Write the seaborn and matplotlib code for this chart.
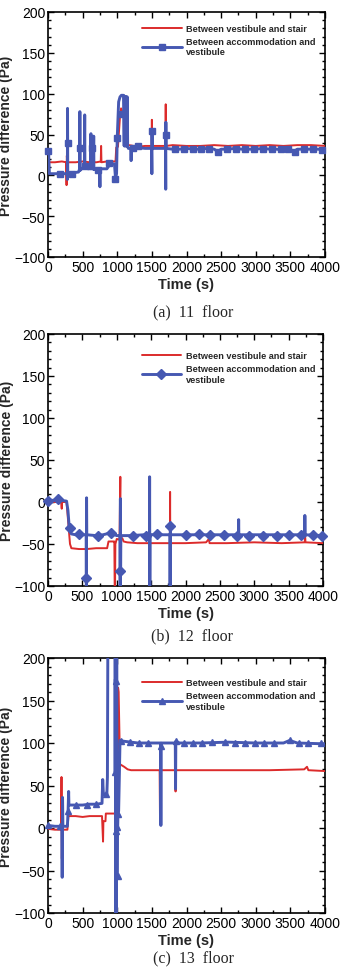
import numpy as np
import matplotlib
matplotlib.use("Agg")
import matplotlib.pyplot as plt
from matplotlib.lines import Line2D
from matplotlib.ticker import MultipleLocator
import seaborn as sns
import pandas as pd

# (time s, pressure difference Pa)
a_red = [(0,16),(100,16),(200,17),(262,16),(268,-12),(272,24),(278,16),(400,16),(500,17),
         (600,16),(700,16),(762,17),(767,36),(772,16),(850,17),(940,17),(975,17),(985,34),
         (1010,35),(1040,72),(1055,82),(1080,76),(1110,78),(1140,40),(1150,36),(1170,37),
         (1300,35),(1400,36),(1497,36),(1500,68),(1503,30),(1506,36),(1600,36),(1697,36),
         (1700,87),(1703,28),(1706,36),(1800,37),(2000,36),(2200,36),(2400,37),(2600,36),
         (2800,37),(3000,36),(3200,37),(3400,36),(3600,37),(3800,37),(4000,36)]
a_blue = [(0,30),(8,30),(20,2),(100,2),(200,2),(275,2),(280,-5),(282,82),(285,3),(350,3),
          (440,4),(458,8),(460,78),(463,6),(500,9),(525,9),(530,74),(533,10),(580,8),(615,8),
          (620,51),(623,8),(655,8),(660,48),(663,7),(745,8),(750,-14),(753,8),(850,8),(900,14),
          (960,14),(975,-4),(990,2),(1000,46),(1020,90),(1040,96),(1060,98),(1090,98),(1100,36),
          (1105,97),(1110,36),(1115,96),(1120,36),(1125,96),(1130,36),(1135,96),(1140,36),
          (1145,96),(1150,36),(1160,33),(1195,33),(1200,18),(1205,33),(1300,34),(1400,33),
          (1495,33),(1500,2),(1502,54),(1505,33),(1600,33),(1697,33),(1700,-17),(1702,65),
          (1705,33),(1800,32),(1900,32),(2000,33),(2100,32),(2200,32),(2300,33),(2400,32),
          (2450,29),(2500,32),(2600,32),(2700,33),(2800,32),(2900,32),(3000,32),(3100,33),
          (3200,32),(3300,32),(3400,31),(3500,32),(3550,29),(3600,32),(3700,32),(3800,32),
          (3900,32),(4000,31)]
a_marks = [(0,30),(180,2),(284,40),(342,2),(462,34),(534,12),(640,34),(722,7),(880,15),
           (968,-4),(992,46),(1064,75),(1223,34),(1300,36),(1497,54),(1700,50),(1830,32),
           (1960,32),(2100,32),(2210,32),(2330,32),(2460,29),(2580,32),(2720,32),(2850,32),
           (2980,32),(3100,32),(3230,32),(3360,32),(3470,32),(3560,29),(3700,32),(3830,32),
           (3960,31)]

b_red = [(0,0),(100,0),(190,0),(200,-8),(205,0),(270,0),(290,-20),(320,-50),(340,-55),
         (450,-56),(555,-56),(560,-100),(563,-56),(700,-55),(860,-55),(880,-47),(950,-47),
         (965,-47),(970,-102),(975,-102),(980,-50),(1000,-44),(1040,-45),(1052,30),(1055,-46),
         (1080,-43),(1100,-47),(1150,-48),(1300,-49),(1475,-49),(1480,-102),(1483,-49),
         (1600,-49),(1773,-49),(1776,12),(1779,-60),(1782,-49),(2000,-49),(2300,-48),
         (2340,-44),(2350,-49),(2600,-49),(3000,-48),(3400,-49),(3735,-48),(3740,-40),
         (3745,-48),(4000,-49)]
b_blue = [(0,2),(100,2),(200,2),(270,1),(290,-10),(310,-31),(340,-38),(400,-39),(555,-39),
          (558,-102),(561,5),(564,-39),(700,-40),(800,-39),(900,-37),(1000,-40),(1048,-40),
          (1050,-102),(1053,4),(1056,-82),(1060,-40),(1200,-40),(1400,-39),(1476,-39),
          (1478,30),(1481,-102),(1484,-39),(1600,-39),(1774,-39),(1776,-102),(1779,-27),
          (1782,-39),(2000,-39),(2400,-39),(2770,-39),(2773,-21),(2776,-39),(3000,-39),
          (3400,-39),(3733,-39),(3736,-16),(3740,-39),(4000,-40)]
b_marks = [(0,1),(150,3),(318,-31),(450,-38),(559,-90),(727,-40),(920,-37),(1054,-82),
           (1235,-40),(1420,-40),(1590,-38),(1776,-28),(2010,-39),(2195,-38),(2363,-39),
           (2556,-39),(2745,-40),(2930,-40),(3130,-40),(3330,-40),(3500,-39),(3680,-39),
           (3860,-39),(3980,-40)]

c_red = [(0,-1),(100,-2),(190,-2),(195,60),(200,-36),(205,-2),(280,-2),(295,14),(400,14),
         (500,13),(600,14),(700,14),(780,14),(795,-16),(800,8),(830,8),(835,17),(900,17),
         (975,17),(985,210),(992,-30),(1000,17),(1012,165),(1020,160),(1040,75),(1100,72),
         (1150,69),(1200,68),(1400,68),(1612,68),(1617,15),(1622,68),(1800,68),(1838,68),
         (1842,43),(1846,68),(2000,68),(2400,68),(2800,68),(3200,68),(3700,69),(3740,72),
         (3760,68),(4000,67)]
c_blue = [(0,3),(100,2),(200,2),(205,-58),(210,36),(215,2),(280,2),(290,20),(298,43),
          (302,27),(400,27),(500,27),(600,28),(700,28),(780,29),(790,57),(800,40),(850,40),
          (858,60),(866,260),(965,260),(970,66),(973,175),(976,-102),(979,210),(982,-4),
          (985,1),(988,-102),(992,210),(996,-57),(1000,16),(1005,-5),(1010,16),(1020,20),
          (1030,60),(1040,103),(1100,102),(1200,101),(1300,100),(1400,100),(1500,100),
          (1626,100),(1630,3),(1634,97),(1640,100),(1800,100),(1838,100),(1842,46),(1846,102),
          (1900,100),(2200,100),(2600,101),(3000,100),(3400,100),(3490,103),(3600,100),
          (4000,99)]
c_marks = [(0,3),(180,2),(284,20),(410,27),(560,27),(700,28),(837,40),(967,66),(977,173),
           (977,-4),(992,1),(1006,-57),(1016,16),(1050,102),(1180,101),(1320,100),(1450,100),
           (1632,97),(1844,102),(1960,100),(2100,100),(2230,100),(2370,101),(2560,101),
           (2700,100),(2840,100),(2990,100),(3120,100),(3260,100),(3490,103),(3620,100),
           (3760,100),(3940,100)]

captions = ["(a)  11  floor", "(b)  12  floor", "(c)  13  floor"]
series_names = ["Between vestibule and stair", "Between accommodation and\nvestibule"]
xticks = [0, 500, 1000, 1500, 2000, 2500, 3000, 3500, 4000]
yticks = [-100, -50, 0, 50, 100, 150, 200]

RED = "#dc2b2b"
BLUE = "#4658b2"

sns.set_theme(style="ticks")
plt.rcParams['font.family'] = ['Liberation Sans', 'DejaVu Sans']

fig = plt.figure(figsize=(3.41, 9.70), dpi=100)

# axes boxes in pixels: left, top, right, bottom
boxes = [(48, 13, 325, 258), (48, 335, 323, 587), (48, 659, 325, 914)]
cap_y = [312, 636, 958]
leg_y = [0.985, 0.965, 0.954]
markers = ["s", "D", "^"]
msizes = [4.0, 4.6, 4.4]
panels = [(a_red, a_blue, a_marks), (b_red, b_blue, b_marks), (c_red, c_blue, c_marks)]

W, H = 341, 970
for i, (red, blue, marks) in enumerate(panels):
    l, t, r, b = boxes[i]
    ax = fig.add_axes([l / W, 1 - b / H, (r - l) / W, (b - t) / H])
    dr = pd.DataFrame(red, columns=["t", "p"])
    db = pd.DataFrame(blue, columns=["t", "p"])
    dm = pd.DataFrame(marks, columns=["t", "p"])
    sns.lineplot(data=dr, x="t", y="p", estimator=None, sort=False, color=RED,
                 linewidth=1.4, ax=ax, zorder=3)
    sns.lineplot(data=db, x="t", y="p", estimator=None, sort=False, color=BLUE,
                 linewidth=2.1, ax=ax, zorder=4)
    ax.plot(dm["t"], dm["p"], linestyle="none", marker=markers[i], color=BLUE,
            markersize=msizes[i], zorder=5, clip_on=False)

    ax.set_xlim(0, 4000)
    ax.set_ylim(-100, 200)
    ax.set_xticks(xticks)
    ax.set_yticks(yticks)
    ax.xaxis.set_minor_locator(MultipleLocator(250))
    ax.yaxis.set_minor_locator(MultipleLocator(10))
    ax.tick_params(which="both", direction="in", top=True, right=True, colors="black",
                   width=1.0)
    ax.tick_params(which="major", length=4.5, labelsize=10, pad=2)
    ax.tick_params(which="minor", length=2.5)
    for sp in ax.spines.values():
        sp.set_linewidth(1.2)
        sp.set_color("black")
    ax.set_xlabel("Time (s)", fontsize=10.5, fontweight="bold", labelpad=2)
    ax.set_ylabel("Pressure difference (Pa)", fontsize=10, fontweight="bold")
    ax.yaxis.set_label_coords(-0.125, 0.5)

    handles = [Line2D([], [], color=RED, linewidth=1.4),
               Line2D([], [], color=BLUE, linewidth=2.1, marker=markers[i],
                      markersize=msizes[i])]
    ax.legend(handles, series_names, loc="upper left", bbox_to_anchor=(0.31, leg_y[i]),
              frameon=False, handlelength=4.3, handletextpad=0.5, labelspacing=0.45,
              prop={"size": 6.6, "weight": "bold"})

    fig.text(0.5 * (l + r) / W + 0.02, 1 - cap_y[i] / H, captions[i], ha="center",
             va="center", fontsize=11.5, family=["Liberation Serif", "DejaVu Serif"])

fig.savefig("out.png", dpi=100)
